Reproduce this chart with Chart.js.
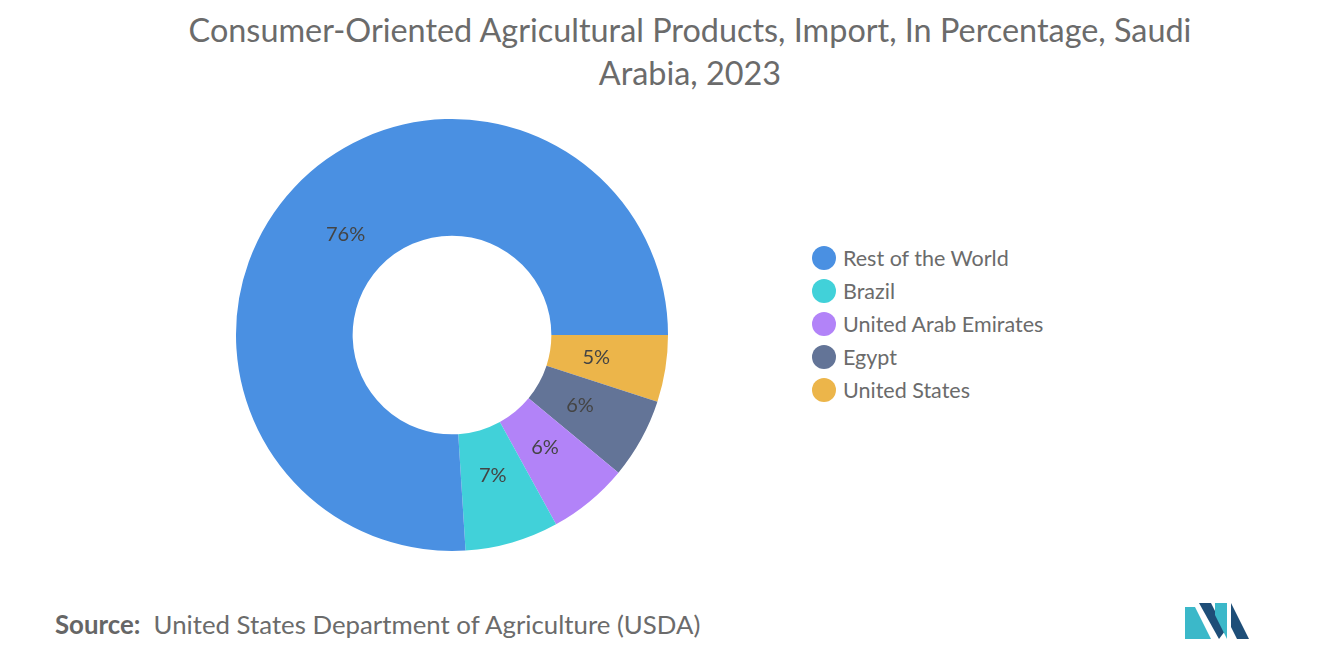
<!DOCTYPE html>
<html><head><meta charset="utf-8">
<script src="https://cdn.jsdelivr.net/npm/chart.js@4"></script>
<style>
body{margin:0;width:1320px;height:665px;background:#fff;font-family:Lato,sans-serif;position:relative;overflow:hidden}
#title{position:absolute;left:170px;width:1040px;top:8px;text-align:center;font-size:32.4px;line-height:43px;color:#6b6b6b}
#wrap{position:absolute;left:232px;top:114px;width:440px;height:442px}
#legend{position:absolute;left:812px;top:241px;font-size:21.5px;color:#6b6b6b}
#legend div{height:33px;display:flex;align-items:center}
#legend span{display:inline-block;width:24px;height:24px;border-radius:50%;margin-right:7px}
#source{position:absolute;left:55px;top:609px;font-size:25.8px;color:#6b6b6b}
#source b{font-weight:700;color:#666}
</style></head><body>
<div id="title">Consumer-Oriented Agricultural Products, Import, In Percentage, Saudi Arabia, 2023</div>
<div id="wrap"><canvas id="c"></canvas></div>
<div id="legend"></div>
<div id="source"><b>Source:</b>&nbsp; United States Department of Agriculture (USDA)</div>
<svg style="position:absolute;left:1185px;top:603px" width="66" height="36">
<polygon points="0,36 0,4 10,4 26,36" fill="#3bb8c9"/>
<polygon points="14,0 26,0 40,28 34,36" fill="#1e4e78"/>
<polygon points="30,0 42,0 42,36 30,12" fill="#3bb8c9"/>
<polygon points="46,0 64,36 52,36 46,24" fill="#1e4e78"/>
</svg>
<script>
const categories = ['Rest of the World','Brazil','United Arab Emirates','Egypt','United States'];
const shares = [76, 7, 6, 6, 5];
const colors = ['#4a90e2','#41d1d9','#b283f8','#637497','#ecb54a'];

const leg = document.getElementById('legend');
categories.forEach((c,i)=>{ const d=document.createElement('div'); d.innerHTML=`<span style="background:${colors[i]}"></span>${c}`; leg.appendChild(d); });

// chart.js draws clockwise; reference runs counterclockwise from 3 o'clock
const rev = a => a.slice().reverse();
const labelPlugin = {
  id:'sliceLabels',
  afterDatasetsDraw(chart){
    const ctx=chart.ctx, meta=chart.getDatasetMeta(0), data=chart.data.datasets[0].data;
    ctx.save(); ctx.font='20px Lato'; ctx.fillStyle='#444'; ctx.textAlign='center'; ctx.textBaseline='middle';
    meta.data.forEach((arc,i)=>{
      const a=(arc.startAngle+arc.endAngle)/2, r=arc.innerRadius+0.4*(arc.outerRadius-arc.innerRadius);
      ctx.fillText(data[i]+'%',arc.x+Math.cos(a)*r,arc.y+Math.sin(a)*r);
    });
    ctx.restore();
  }
};
new Chart(document.getElementById('c'),{
  type:'doughnut',
  data:{labels:rev(categories),datasets:[{data:rev(shares),backgroundColor:rev(colors),borderWidth:0}]},
  options:{responsive:true,maintainAspectRatio:false,animation:false,rotation:90,cutout:'46%',
    layout:{padding:4},
    plugins:{legend:{display:false},tooltip:{enabled:false}}},
  plugins:[labelPlugin]
});
</script>
</body></html>
